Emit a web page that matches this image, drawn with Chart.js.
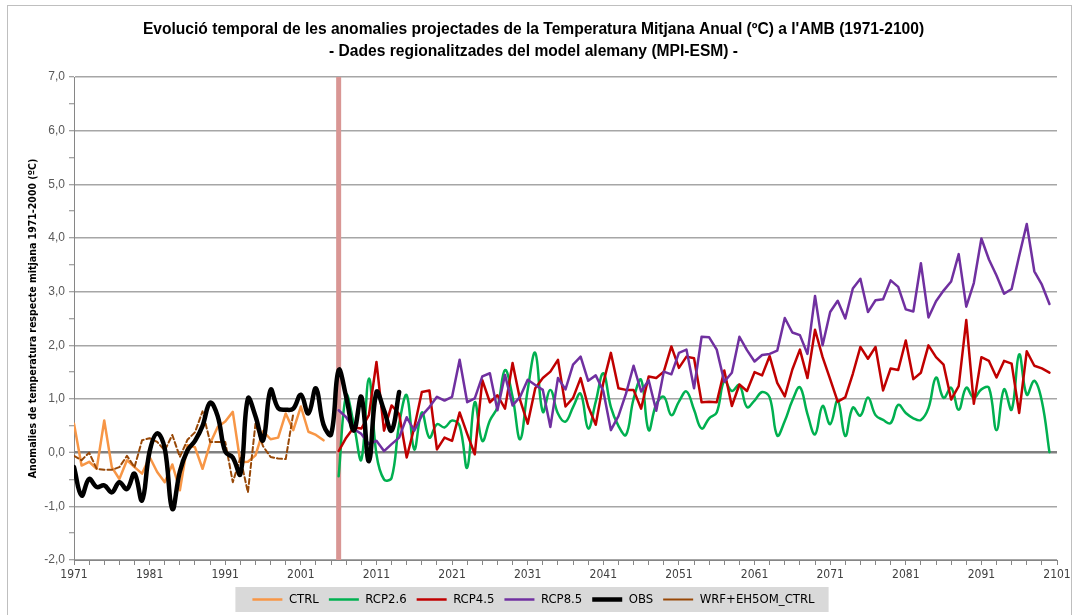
<!DOCTYPE html>
<html>
<head>
<meta charset="utf-8">
<script src="https://cdn.jsdelivr.net/npm/chart.js@4.4.1/dist/chart.umd.min.js"></script>
<style>
html,body{margin:0;padding:0;background:#fff;}
canvas{display:block;}
</style>
</head>
<body>
<canvas id="c" width="1079" height="615"></canvas>
<script>
// ---------- DATA ----------
const titleLines = [
  "Evolució temporal de les anomalies projectades de la Temperatura Mitjana Anual (ºC) a l'AMB (1971-2100)",
  "- Dades regionalitzades del model alemany (MPI-ESM) -"
];
const yAxisTitle = "Anomalies de temperatura respecte mitjana 1971-2000 (ºC)";

const xMajorYears = [1971,1981,1991,2001,2011,2021,2031,2041,2051,2061,2071,2081,2091,2101];
const xTickLabels = ["1971","1981","1991","2001","2011","2021","2031","2041","2051","2061","2071","2081","2091","2101"];
const yMajorValues = [-2,-1,0,1,2,3,4,5,6,7];
const yTickLabels = ["-2,0","-1,0","0,0","1,0","2,0","3,0","4,0","5,0","6,0","7,0"];

const seriesNames = ["CTRL","RCP2.6","RCP4.5","RCP8.5","OBS","WRF+EH5OM_CTRL"];

const ctrlStart = 1971;
const ctrlValues = [0.54,-0.24,-0.17,-0.30,0.60,-0.27,-0.49,-0.14,-0.27,-0.39,
  -0.08,-0.36,-0.55,-0.22,-0.70,0.14,0.10,-0.30,0.17,0.48,
  0.58,0.76,-0.18,-0.17,-0.05,0.40,0.25,0.28,0.73,0.42,
  0.86,0.39,0.33,0.23];

const wrfStart = 1971;
const wrfValues = [-0.06,-0.14,0.00,-0.30,-0.32,-0.32,-0.27,-0.06,-0.27,0.23,
  0.27,0.20,0.04,0.33,-0.08,0.24,0.38,0.77,0.20,0.20,
  0.20,-0.55,-0.10,-0.74,0.54,0.12,-0.08,-0.11,-0.12,0.73];

const obsStart = 1971;
const obsValues = [-0.27,-0.80,-0.49,-0.64,-0.61,-0.74,-0.55,-0.68,-0.39,-0.89,
  0.02,0.36,0.08,-1.05,-0.35,0.04,0.22,0.50,0.93,0.68,
  0.02,-0.09,-0.40,1.01,0.68,0.23,1.17,0.83,0.80,0.82,
  1.08,0.73,1.20,0.52,0.34,1.54,1.04,0.41,1.04,-0.16,
  1.13,0.79,0.41,1.13];

const projStart = 2006;
const rcp26Values = [-0.44,1.07,0.53,-0.13,1.38,-0.03,-0.50,-0.47,0.53,1.07,
  0.06,0.75,0.28,0.53,0.47,0.60,0.50,-0.28,0.94,0.22,
  0.60,0.85,1.54,1.04,0.25,1.17,1.86,0.76,1.17,0.73,
  0.58,0.85,1.10,0.45,0.95,1.48,0.85,0.50,0.33,1.00,
  1.36,0.42,0.90,1.04,0.70,0.95,1.14,0.80,0.45,0.64,
  0.75,1.34,1.15,1.26,0.85,0.97,1.13,1.03,0.32,0.59,
  0.97,1.22,0.72,0.34,0.87,0.53,0.97,0.31,0.84,0.69,
  1.03,0.70,0.61,0.55,0.89,0.74,0.64,0.61,0.83,1.40,
  1.02,1.21,0.80,1.21,1.02,1.18,1.21,0.42,1.18,0.80,
  1.83,1.08,1.34,0.96,0.01];
const rcp45Values = [0.03,0.28,0.47,0.45,0.70,1.69,0.41,0.88,0.72,-0.09,
  0.47,1.13,1.16,0.06,0.28,0.22,0.75,0.35,-0.03,1.35,
  0.94,1.07,0.82,1.67,0.98,0.54,1.20,1.39,1.51,1.73,
  0.86,1.02,1.39,0.86,0.52,1.30,1.86,1.20,1.17,1.17,
  0.82,1.42,1.39,1.51,1.98,1.58,1.79,1.76,0.94,0.95,
  0.94,1.53,0.87,1.27,1.15,1.50,1.44,1.80,1.30,1.05,
  1.55,1.92,1.39,2.29,1.78,1.37,0.95,1.03,1.47,1.97,
  1.75,1.97,1.16,1.57,1.54,2.09,1.37,1.49,2.00,1.78,
  1.64,0.99,1.24,2.47,0.91,1.78,1.71,1.40,1.71,1.66,
  0.74,1.89,1.62,1.57,1.49];
const rcp85Values = [0.79,0.66,0.44,0.35,0.16,0.22,0.03,0.16,0.28,0.66,
  0.41,0.69,0.85,1.04,0.97,1.04,1.73,0.94,1.01,1.42,
  1.48,0.79,1.45,0.88,1.04,1.36,1.26,1.17,0.48,1.39,
  1.18,1.64,1.79,1.34,1.44,1.15,0.42,0.68,1.10,1.62,
  1.14,1.35,0.78,1.51,1.46,1.86,1.92,1.20,2.16,2.15,
  1.92,1.32,1.49,2.16,1.91,1.70,1.82,1.84,1.90,2.51,
  2.24,2.19,1.84,2.92,2.00,2.62,2.83,2.50,3.06,3.24,
  2.62,2.84,2.86,3.21,3.09,2.67,2.63,3.53,2.52,2.82,
  3.02,3.19,3.70,2.72,3.16,3.99,3.60,3.30,2.96,3.05,
  3.67,4.26,3.38,3.13,2.77];

const projectionStartYear = 2006;   // vertical marker
const markerRange = [-2, 7];

// ---------- BUILD ----------
function toPoints(start, values){ return values.map((v,i)=>({x:start+i, y:v})); }

const narrow = "'Liberation Sans Narrow','Arial Narrow','DejaVu Sans Condensed',sans-serif";
const sans = "'Liberation Sans',Arial,sans-serif";

const xAllTicks = [];
for (let y = 1971; y <= 2101; y += 2) xAllTicks.push(y);
if (xAllTicks[xAllTicks.length-1] !== 2101) xAllTicks.push(2101);
const yAllTicks = [];
for (let v = -2; v <= 7; v += 0.5) yAllTicks.push(v);

const framePlugin = {
  id: 'frame',
  beforeDraw(chart){
    const ctx = chart.ctx;
    ctx.save();
    ctx.fillStyle = '#ffffff';
    ctx.fillRect(0,0,chart.width,chart.height);
    ctx.strokeStyle = '#bfbfbf';
    ctx.lineWidth = 1;
    ctx.strokeRect(7.5, 5.5, 1064, 620);
    const hb = chart.legend && chart.legend.legendHitBoxes;
    if (hb && hb.length){
      const l = Math.min(...hb.map(h=>h.left)) - 17;
      const r = Math.max(...hb.map(h=>h.left+h.width)) + 14;
      const cy = hb[0].top + hb[0].height/2;
      ctx.fillStyle = '#d9d9d9';
      ctx.fillRect(l, cy-12.5, r-l, 25);
    }
    ctx.restore();
  }
};

const datasets = [
  {label: seriesNames[0], data: toPoints(ctrlStart, ctrlValues), borderColor:'#F79646', backgroundColor:'#F79646', borderWidth:2.5, tension:0, order:6},
  {label: seriesNames[1], data: toPoints(projStart, rcp26Values), borderColor:'#00B050', backgroundColor:'#00B050', borderWidth:2.5, tension:0.4, order:4},
  {label: seriesNames[2], data: toPoints(projStart, rcp45Values), borderColor:'#C00000', backgroundColor:'#C00000', borderWidth:2.5, tension:0, order:3},
  {label: seriesNames[3], data: toPoints(projStart, rcp85Values), borderColor:'#7030A0', backgroundColor:'#7030A0', borderWidth:2.5, tension:0, order:2},
  {label: seriesNames[4], data: toPoints(obsStart, obsValues), borderColor:'#000000', backgroundColor:'#000000', borderWidth:4.5, tension:0.4, order:1},
  {label: seriesNames[5], data: toPoints(wrfStart, wrfValues), borderColor:'#984807', backgroundColor:'#984807', borderWidth:2, borderDash:[5,3], tension:0, order:5},
  {label: '', data: markerRange.map(v=>({x:projectionStartYear, y:v})), borderColor:'#D99694', backgroundColor:'#D99694', borderWidth:5, tension:0, order:10}
];

new Chart(document.getElementById('c'), {
  type: 'line',
  data: { datasets },
  options: {
    responsive: false,
    animation: false,
    devicePixelRatio: 1,
    elements: { point: { radius: 0, hoverRadius: 0 }, line: { borderCapStyle: 'round', borderJoinStyle: 'round' } },
    layout: { padding: { left: 10, right: 22, top: 19, bottom: 2 } },
    plugins: {
      tooltip: { enabled: false },
      title: {
        display: true, text: titleLines, color: '#000',
        font: { family: sans, size: 15.6, weight: 'bold', lineHeight: 22/15.6 },
        padding: { top: 0, bottom: 14 }
      },
      legend: {
        position: 'bottom', maxHeight: 30,
        labels: {
          usePointStyle: true, pointStyle: 'line', pointStyleWidth: 30,
          padding: 10, color: '#000',
          font: { family: narrow, size: 13 },
          filter: (item) => item.text !== '',
          sort: (a,b) => a.datasetIndex - b.datasetIndex
        }
      }
    },
    scales: {
      x: {
        type: 'linear', min: 1971, max: 2101,
        afterBuildTicks(s){ s.ticks = xAllTicks.map(v=>({value:v})); },
        afterFit(s){ s.height = 23; },
        ticks: {
          autoSkip: false, maxRotation: 0, padding: 3, color: '#404040',
          font: { family: narrow, size: 12 },
          callback: (v) => { const i = xMajorYears.indexOf(v); return i >= 0 ? xTickLabels[i] : ''; }
        },
        grid: { drawOnChartArea: false, drawTicks: true, tickLength: 5, tickColor: '#868686', tickWidth: 1 },
        border: { color: '#868686', width: 1 }
      },
      y: {
        min: -2, max: 7,
        afterBuildTicks(s){ s.ticks = yAllTicks.map(v=>({value:v})); },
        afterFit(s){ s.width = 64; },
        ticks: {
          padding: 4, color: '#595959',
          font: { family: sans, size: 12 },
          callback: (v) => { const i = yMajorValues.indexOf(v); return i >= 0 ? yTickLabels[i] : ''; }
        },
        grid: {
          color: (c) => { const v = c.tick ? c.tick.value : null; if (!Number.isInteger(v)) return 'rgba(0,0,0,0)'; return v === 0 ? '#808080' : '#a6a6a6'; },
          lineWidth: (c) => { const v = c.tick ? c.tick.value : null; return v === 0 ? 2.5 : 1.5; },
          tickLength: 5, tickColor: '#868686', tickWidth: 1
        },
        border: { color: '#868686', width: 1 },
        title: {
          display: true, text: yAxisTitle, color: '#000',
          font: { family: narrow, size: 10.5, weight: 'bold' },
          padding: { top: 17, bottom: 0 }
        }
      }
    }
  },
  plugins: [framePlugin]
});
</script>
</body>
</html>
